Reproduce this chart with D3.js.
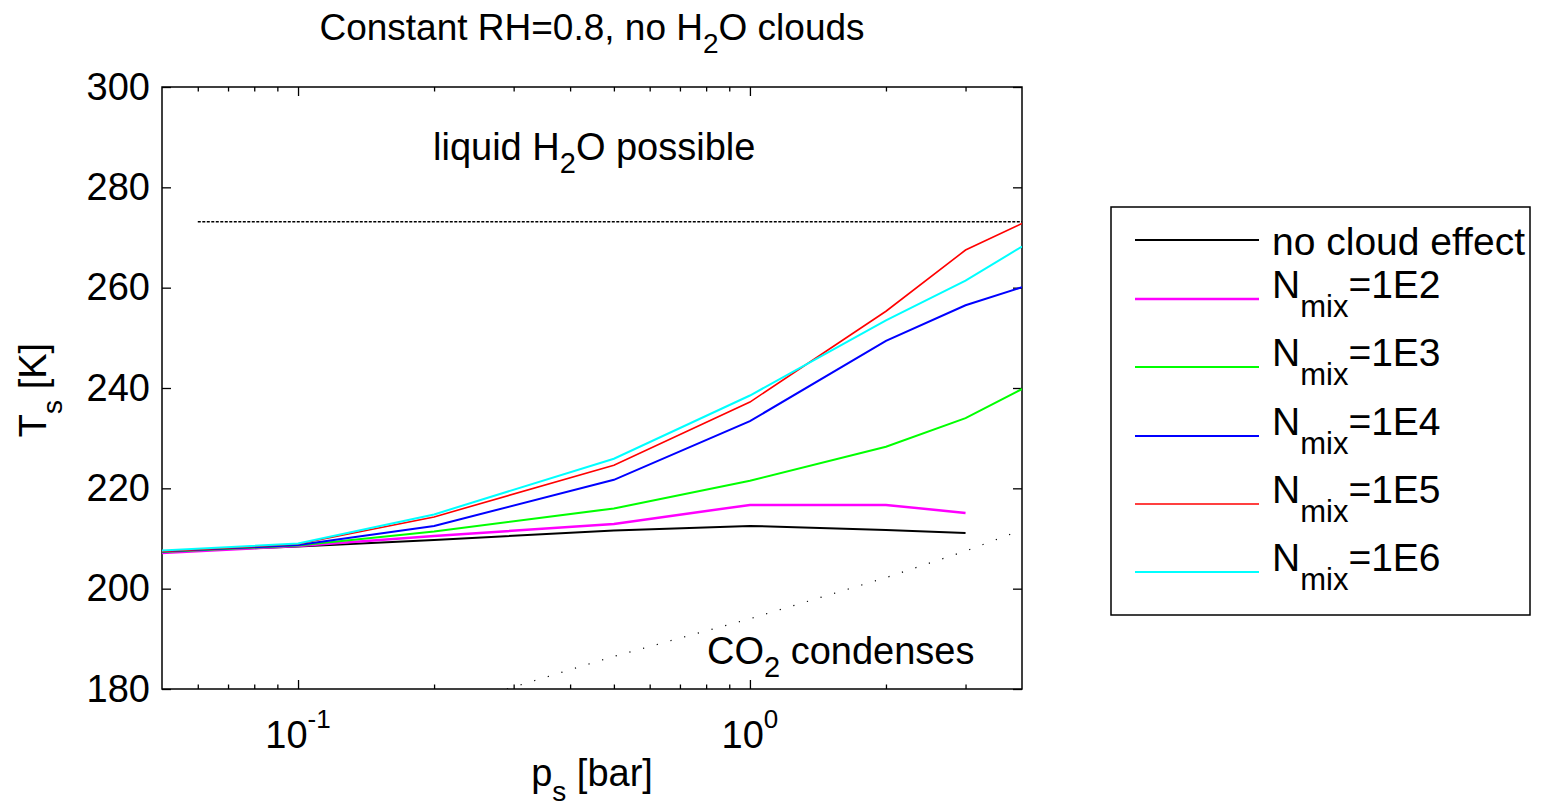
<!DOCTYPE html>
<html>
<head>
<meta charset="utf-8">
<script src="https://cdn.jsdelivr.net/npm/d3@7"></script>
<style>
  body { margin: 0; background: #fff; }
  text { font-family: "Liberation Sans", Arial, sans-serif; fill: #000; }
</style>
</head>
<body>
<script>
// surface pressure [bar]
var pressure = [0.05, 0.1, 0.2, 0.5, 1, 2, 3, 4];

// surface temperature [K] per case (first two end at 3 bar)
var noCloud = [207.4, 208.4, 209.7, 211.6, 212.5, 211.7, 211.1];
var mix1e2  = [207.1, 208.5, 210.5, 212.9, 216.7, 216.7, 215.1];
var mix1e3  = [207.3, 208.6, 211.4, 216.0, 221.5, 228.3, 234.0, 239.8];
var mix1e4  = [207.4, 208.7, 212.5, 221.7, 233.4, 249.4, 256.5, 260.1];
var mix1e5  = [207.4, 208.9, 214.3, 224.6, 237.2, 255.3, 267.5, 272.8];
var mix1e6  = [207.6, 209.0, 214.8, 225.9, 238.5, 253.5, 261.4, 268.2];

var seriesNames = ["no cloud effect", "1E2", "1E3", "1E4", "1E5", "1E6"];
var seriesColors = ["#000000", "#ff00ff", "#00ff00", "#0000ff", "#ff0000", "#00ffff"];
var seriesWidths = [2, 2.5, 2, 2, 1.6, 2];
var seriesData = [noCloud, mix1e2, mix1e3, mix1e4, mix1e5, mix1e6];

// freezing line and CO2 condensation curve
var freezeP = [0.06, 4];
var freezeT = [273.15, 273.15];
var co2P = [0.29, 0.5, 1, 2, 3, 4];
var co2T = [180.0, 186.5, 194.0, 202.2, 207.5, 211.7];

var yTicks = [180, 200, 220, 240, 260, 280, 300];
var xMajor = [0.1, 1];
var xMajorExp = ["-1", "0"];
var xMinor = [0.06, 0.07, 0.08, 0.09, 0.2, 0.3, 0.4, 0.5, 0.6, 0.7, 0.8, 0.9, 2, 3];

var width = 1542, height = 806;
var pLeft = 162, pRight = 1022, pTop = 87, pBottom = 689;
var fs = 38;

var x = d3.scaleLog().domain([0.05, 4]).range([pLeft, pRight]);
var y = d3.scaleLinear().domain([180, 300]).range([pBottom, pTop]);

var svg = d3.select("body").append("svg")
    .attr("width", width)
    .attr("height", height);

var defs = svg.append("defs");
defs.append("clipPath").attr("id", "plot")
    .append("rect")
    .attr("x", pLeft).attr("y", pTop)
    .attr("width", pRight - pLeft).attr("height", pBottom - pTop);

// axes with inward ticks
svg.append("g")
    .attr("transform", "translate(" + pLeft + ",0)")
    .call(d3.axisLeft(y).tickValues(yTicks).tickSizeInner(-9).tickSizeOuter(0).tickPadding(12))
    .call(g => g.select(".domain").remove())
    .call(g => g.selectAll("text").style("font-size", fs + "px").attr("fill", "#000"));

svg.append("g")
    .attr("transform", "translate(" + pRight + ",0)")
    .call(d3.axisRight(y).tickValues(yTicks).tickSizeInner(-9).tickSizeOuter(0).tickFormat(""))
    .call(g => g.select(".domain").remove());

[[pBottom, d3.axisBottom], [pTop, d3.axisTop]].forEach(function (a) {
  svg.append("g")
      .attr("transform", "translate(0," + a[0] + ")")
      .call(a[1](x).tickValues(xMajor).tickSizeInner(-9).tickSizeOuter(0).tickFormat(""))
      .call(g => g.select(".domain").remove());
  svg.append("g")
      .attr("transform", "translate(0," + a[0] + ")")
      .call(a[1](x).tickValues(xMinor).tickSizeInner(-4.5).tickSizeOuter(0).tickFormat(""))
      .call(g => g.select(".domain").remove());
});

svg.selectAll("g.tick line").attr("stroke", "#000").attr("stroke-width", 1.3);

// log x labels 10^n
var xl = svg.append("g").selectAll("text")
    .data(xMajor)
    .join("text")
    .attr("x", d => x(d))
    .attr("y", 748)
    .attr("text-anchor", "middle")
    .style("font-size", fs + "px");
xl.append("tspan").text("10");
xl.append("tspan").attr("dy", -20).style("font-size", "26px").text((d, i) => xMajorExp[i]);

// frame
svg.append("rect")
    .attr("x", pLeft).attr("y", pTop)
    .attr("width", pRight - pLeft).attr("height", pBottom - pTop)
    .attr("fill", "none").attr("stroke", "#000").attr("stroke-width", 1.5);

var plot = svg.append("g").attr("clip-path", "url(#plot)");

var line = d3.line().x(d => x(d[0])).y(d => y(d[1]));

plot.append("path")
    .attr("d", line(freezeP.map((p, i) => [p, freezeT[i]])))
    .attr("fill", "none").attr("stroke", "#000").attr("stroke-width", 1.5)
    .attr("stroke-dasharray", "3,1.5");

plot.append("path")
    .attr("d", line(co2P.map((p, i) => [p, co2T[i]])))
    .attr("fill", "none").attr("stroke", "#000").attr("stroke-width", 1.2)
    .attr("stroke-dasharray", "1.2,13");

seriesData.forEach(function (s, k) {
  plot.append("path")
      .attr("d", line(s.map((t, i) => [pressure[i], t])))
      .attr("fill", "none")
      .attr("stroke", seriesColors[k])
      .attr("stroke-width", seriesWidths[k]);
});

// annotations
var t1 = svg.append("text").attr("x", 592).attr("y", 40).attr("text-anchor", "middle").style("font-size", "37px");
t1.append("tspan").text("Constant RH=0.8, no H");
t1.append("tspan").attr("dy", 13).style("font-size", "28px").text("2");
t1.append("tspan").attr("dy", -13).text("O clouds");

var t2 = svg.append("text").attr("x", 433).attr("y", 160).style("font-size", fs + "px");
t2.append("tspan").text("liquid H");
t2.append("tspan").attr("dy", 13).style("font-size", "29px").text("2");
t2.append("tspan").attr("dy", -13).text("O possible");

var t3 = svg.append("text").attr("x", 707).attr("y", 664).style("font-size", fs + "px");
t3.append("tspan").text("CO");
t3.append("tspan").attr("dy", 13).style("font-size", "29px").text("2");
t3.append("tspan").attr("dy", -13).text(" condenses");

var xlab = svg.append("text").attr("x", 592).attr("y", 786).attr("text-anchor", "middle").style("font-size", fs + "px");
xlab.append("tspan").text("p");
xlab.append("tspan").attr("dy", 15).style("font-size", "28px").text("s");
xlab.append("tspan").attr("dy", -15).text(" [bar]");

var ylab = svg.append("text").attr("transform", "translate(46,390) rotate(-90)")
    .attr("text-anchor", "middle").style("font-size", fs + "px");
ylab.append("tspan").text("T");
ylab.append("tspan").attr("dy", 16).style("font-size", "28px").text("s");
ylab.append("tspan").attr("dy", -16).text(" [K]");

// legend
var lg = svg.append("g");
lg.append("rect")
    .attr("x", 1111).attr("y", 207).attr("width", 419).attr("height", 408)
    .attr("fill", "#fff").attr("stroke", "#000").attr("stroke-width", 1.5);

var legendY = [240, 299, 367, 436, 504, 572];
seriesNames.forEach(function (name, k) {
  lg.append("line")
      .attr("x1", 1135).attr("x2", 1259)
      .attr("y1", legendY[k]).attr("y2", legendY[k])
      .attr("stroke", seriesColors[k]).attr("stroke-width", seriesWidths[k]);
  var tx = lg.append("text").attr("x", 1272).style("font-size", "39px");
  if (k === 0) {
    tx.attr("y", 255).text(name);
  } else {
    tx.attr("y", legendY[k] - 1);
    tx.append("tspan").text("N");
    tx.append("tspan").attr("dy", 19).style("font-size", "31px").text("mix");
    tx.append("tspan").attr("dy", -19).text("=" + name);
  }
});
</script>
</body>
</html>
